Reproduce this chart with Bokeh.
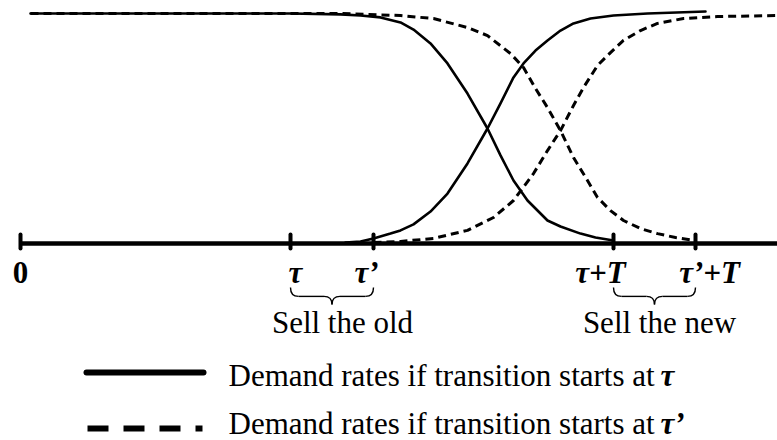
from bokeh.plotting import figure
from bokeh.models import Range1d
from bokeh.core.properties import value
from bokeh.embed import file_html
from bokeh.resources import INLINE

FONT = value("Liberation Serif")

# ---- data (time units: 0 at origin; tau = 270, tau' = 353, T = 323) ----
tick_t = [0, 270, 353, 593, 675]
tick_labels = ["0", "τ", "τ’", "τ+T", "τ’+T"]
tick_label_t = [0, 275, 346, 580, 689]
tick_label_style = ["bold", "bold italic", "bold italic", "bold italic", "bold italic"]

# demand curves if transition starts at tau (solid)
old_tau_t = [10, 270, 320, 340, 360, 380, 393, 410, 427, 447, 467, 480, 493, 507, 527, 540, 560, 575, 593]
old_tau_d = [1.000, 1.000, 0.996, 0.991, 0.983, 0.961, 0.930, 0.870, 0.783, 0.652, 0.500,
             0.383, 0.274, 0.187, 0.100, 0.074, 0.043, 0.026, 0.013]
new_tau_t = [325, 340, 353, 370, 380, 393, 410, 427, 447, 467, 480, 493, 503, 515, 527, 540,
             553, 570, 593, 627, 685]
new_tau_d = [0.004, 0.009, 0.022, 0.043, 0.057, 0.083, 0.139, 0.217, 0.348, 0.500, 0.609,
             0.722, 0.783, 0.839, 0.883, 0.926, 0.957, 0.978, 0.991, 1.000, 1.009]

# demand curves if transition starts at tau' (dashed)
old_taup_t = [10, 320, 347, 380, 413, 447, 467, 490, 503, 515, 527, 540, 553, 567, 577, 590,
              603, 620, 637, 655, 675]
old_taup_d = [1.000, 1.000, 0.996, 0.991, 0.978, 0.939, 0.904, 0.826, 0.765, 0.674, 0.591,
              0.491, 0.374, 0.274, 0.200, 0.143, 0.100, 0.065, 0.043, 0.026, 0.013]
new_taup_t = [353, 380, 413, 447, 473, 493, 513, 527, 540, 553, 563, 577, 590, 603, 620, 637,
              663, 697, 757]
new_taup_d = [0.004, 0.009, 0.022, 0.057, 0.113, 0.187, 0.304, 0.404, 0.491, 0.600, 0.678,
              0.774, 0.830, 0.883, 0.926, 0.957, 0.978, 0.987, 0.991]

brace_texts = ["Sell the old", "Sell the new"]
brace_text_t = [322, 639]
legend_texts = ["Demand rates if transition starts at", "Demand rates if transition starts at"]
legend_symbols = ["τ", "τ’"]

# ---- figure ----
p = figure(width=777, height=440, x_range=Range1d(-20, 757),
           y_range=Range1d(-0.85652, 1.05652), output_backend="svg",
           toolbar_location=None, x_axis_type=None, y_axis_type=None,
           min_border=0, outline_line_color=None, background_fill_color="white")
p.grid.visible = False

# time axis
p.line([0, 760], [0, 0], line_width=4.5, color="black")
p.segment(x0=tick_t, y0=[0.039] * len(tick_t), x1=tick_t, y1=[-0.022] * len(tick_t),
          line_width=4, color="black", line_cap="round")

# curves
p.line(old_taup_t, old_taup_d, line_width=3, color="black", line_dash="8 5")
p.line(new_taup_t, new_taup_d, line_width=3, color="black", line_dash="8 5")
p.line(old_tau_t, old_tau_d, line_width=2.6, color="black", line_cap="round", line_join="round")
p.line(new_tau_t, new_tau_d, line_width=2.6, color="black", line_cap="round", line_join="round")

# tick labels
for t, lab, st in zip(tick_label_t, tick_labels, tick_label_style):
    p.text(x=[t], y=[-0.127], text=[lab], text_font=FONT, text_font_size="31px",
           text_font_style=st, text_align="center", text_baseline="alphabetic")

# braces between tau..tau' and tau+T..tau'+T
pairs = [(tick_t[1], tick_t[2]), (tick_t[3], tick_t[4])]
y0, y1, y2, r = -0.191, -0.230, -0.265, 8
for a, b in pairs:
    m = (a + b) / 2
    p.quadratic(x0=[a, b, m - r, m + r], y0=[y0, y0, y1, y1],
                x1=[a + r, b - r, m, m], y1=[y1, y1, y2, y2],
                cx=[a, b, m, m], cy=[y1, y1, y1, y1], line_color="black", line_width=1.4)
    p.segment(x0=[a + r, m + r], y0=[y1, y1], x1=[m - r, b - r], y1=[y1, y1],
              line_color="black", line_width=1.4)

p.text(x=brace_text_t, y=[-0.344, -0.344], text=brace_texts, text_font=FONT,
       text_font_size="31px", text_align="center", text_baseline="alphabetic")

# legend
p.line([66, 183], [-0.561, -0.561], line_width=6, color="black", line_cap="round")
p.line([67, 182], [-0.804, -0.804], line_width=6, color="black", line_dash="21 15")
p.text(x=[208, 208], y=[-0.574, -0.783], text=legend_texts, text_font=FONT,
       text_font_size="31px", text_align="left", text_baseline="alphabetic")
p.text(x=[640, 640], y=[-0.574, -0.783], text=legend_symbols, text_font=FONT,
       text_font_size="31px", text_font_style="bold italic", text_align="left",
       text_baseline="alphabetic")

open("out.html", "w").write(file_html(p, INLINE))
